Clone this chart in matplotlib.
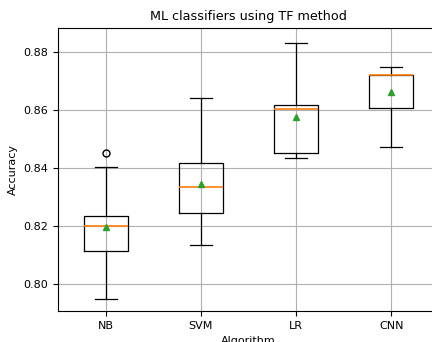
import matplotlib
matplotlib.use("Agg")
import matplotlib.pyplot as plt

# Box statistics
algorithms = ["NB", "SVM", "LR", "CNN"]
whislo = [0.795, 0.8133, 0.8433, 0.8473]
q1 = [0.8115, 0.8245, 0.8451, 0.8606]
med = [0.8200, 0.8336, 0.8603, 0.8722]
q3 = [0.8236, 0.8416, 0.8619, 0.8722]
whishi = [0.8403, 0.8643, 0.8832, 0.8750]
means = [0.8197, 0.8345, 0.8576, 0.8661]
fliers = [[0.8452], [], [], []]

stats = []
for i, name in enumerate(algorithms):
    stats.append({
        "label": name, "whislo": whislo[i], "q1": q1[i], "med": med[i],
        "q3": q3[i], "whishi": whishi[i], "mean": means[i], "fliers": fliers[i],
    })

fig = plt.figure(figsize=(4.32, 3.42), dpi=100)
# axes run past the right edge, like the cropped reference
ax = fig.add_axes([58 / 432, 31 / 342, 381 / 432, 283 / 342])

ax.bxp(stats, showmeans=True, widths=0.46,
       meanprops=dict(marker="^", markerfacecolor="C2", markeredgecolor="C2", markersize=5),
       flierprops=dict(marker="o", markerfacecolor="none", markersize=5),
       boxprops=dict(linewidth=0.9), whiskerprops=dict(linewidth=0.9),
       capprops=dict(linewidth=0.9), medianprops=dict(linewidth=1.2, color="C1"))

ax.set_ylim(0.7907, 0.8883)
ax.set_xlim(0.5, 4.5)
ax.grid(True)
ax.set_axisbelow(True)
ax.set_title("ML classifiers using TF method", fontsize=9.2)
ax.set_xlabel("Algorithm", fontsize=8)
ax.set_ylabel("Accuracy", fontsize=8)
ax.tick_params(labelsize=8)

fig.savefig("out.png", dpi=100)
